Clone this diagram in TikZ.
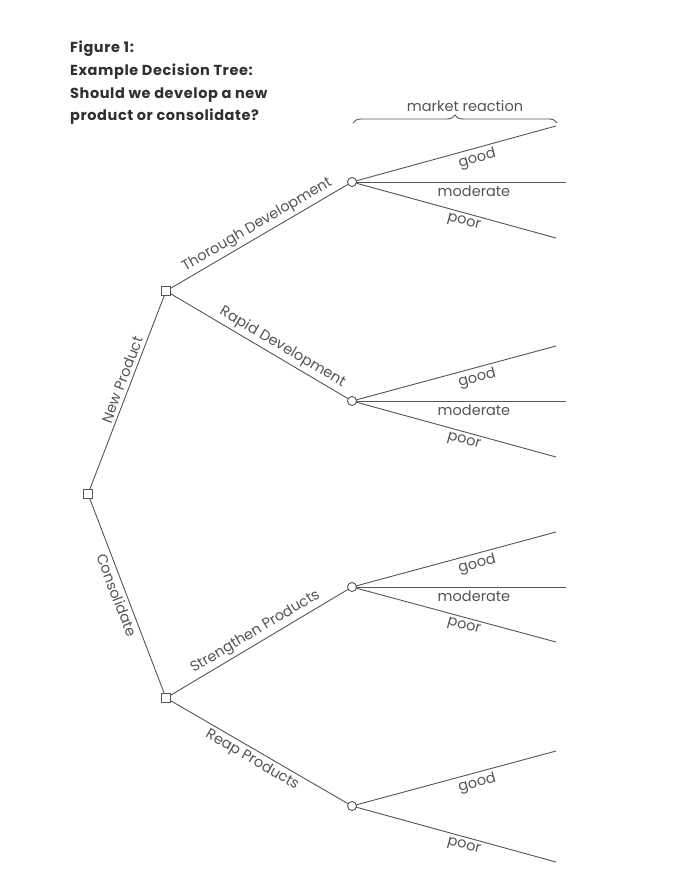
\documentclass[tikz,border=0pt]{standalone}
\usepackage{fontspec}
\setmainfont{Poppins}
\usetikzlibrary{decorations.pathreplacing}
\definecolor{ink}{HTML}{555555}
\definecolor{titleink}{HTML}{303030}
\tikzset{
  decision/.style={draw=ink, line width=0.9pt, fill=white, minimum size=8.5pt, inner sep=0pt, rectangle},
  chance/.style={draw=ink, line width=0.9pt, fill=white, minimum size=9pt, inner sep=0pt, circle},
  branch/.style={draw=ink, line width=0.9pt},
  lbl/.style={font=\fontsize{14.5}{16}\selectfont, text=ink, sloped, inner sep=3pt},
  ttl/.style={font=\bfseries\fontsize{14.5}{16}\selectfont\addfontfeatures{LetterSpace=4}, text=titleink, anchor=west, inner sep=0pt}
}
\begin{document}
\begin{tikzpicture}[x=1pt, y=-1pt]
\useasboundingbox (0,0) rectangle (700,875);
\fill[white] (0,0) rectangle (700,875);

% title
\node[ttl] (t1) at (70,49) {Figure 1:};
\node[ttl] (t2) at (70,72) {Example Decision Tree:};
\node[ttl] (t3) at (70,95) {Should we develop a new};
\node[ttl] (t4) at (70,117) {product or consolidate?};

% end points
\coordinate (a1) at (556,126);
\coordinate (a2) at (566,182);
\coordinate (a3) at (556,238);
\coordinate (b1) at (556,346);
\coordinate (b2) at (566,401);
\coordinate (b3) at (556,457);
\coordinate (c1) at (556,532);
\coordinate (c2) at (566,587);
\coordinate (c3) at (556,642);
\coordinate (d1) at (556,751);
\coordinate (d3) at (556,862);

% outcome branches
\draw[branch] (352,182) -- node[lbl, below, pos=0.6] {good} (a1);
\draw[branch] (352,182) -- node[lbl, below, pos=0.57] {moderate} (a2);
\draw[branch] (352,182) -- node[lbl, below, pos=0.56] {poor} (a3);
\draw[branch] (352,401) -- node[lbl, below, pos=0.6] {good} (b1);
\draw[branch] (352,401) -- node[lbl, below, pos=0.57] {moderate} (b2);
\draw[branch] (352,401) -- node[lbl, below, pos=0.56] {poor} (b3);
\draw[branch] (352,587) -- node[lbl, below, pos=0.6] {good} (c1);
\draw[branch] (352,587) -- node[lbl, below, pos=0.57] {moderate} (c2);
\draw[branch] (352,587) -- node[lbl, below, pos=0.56] {poor} (c3);
\draw[branch] (352,806) -- node[lbl, below, pos=0.6] {good} (d1);
\draw[branch] (352,806) -- node[lbl, below, pos=0.56] {poor} (d3);

% main nodes
\node[decision] (root) at (88,494) {};
\node[decision] (np) at (166,291) {};
\node[decision] (co) at (166,698) {};
\node[chance] (ca) at (352,182) {};
\node[chance] (cb) at (352,401) {};
\node[chance] (cc) at (352,587) {};
\node[chance] (cd) at (352,806) {};

\draw[branch] (root) -- node[lbl, above, pos=0.55] {New Product} (np);
\draw[branch] (root) -- node[lbl, below, pos=0.48] {Consolidate} (co);
\draw[branch] (np) -- node[lbl, above, pos=0.52] {Thorough Development} (ca);
\draw[branch] (np) -- node[lbl, above, pos=0.6] {Rapid Development} (cb);
\draw[branch] (co) -- node[lbl, above, pos=0.51] {Strengthen Products} (cc);
\draw[branch] (co) -- node[lbl, below, pos=0.49] {Reap Products} (cd);

% brace
\coordinate (bl) at (353,123);
\coordinate (br) at (557,123);
\draw[ink, line width=0.9pt, decorate, decoration={brace, amplitude=8pt}] (bl) -- (br)
  node[midway, above=8pt, font=\fontsize{14.5}{16}\selectfont, text=ink, xshift=10pt] (mr) {market reaction};
\end{tikzpicture}
\end{document}
